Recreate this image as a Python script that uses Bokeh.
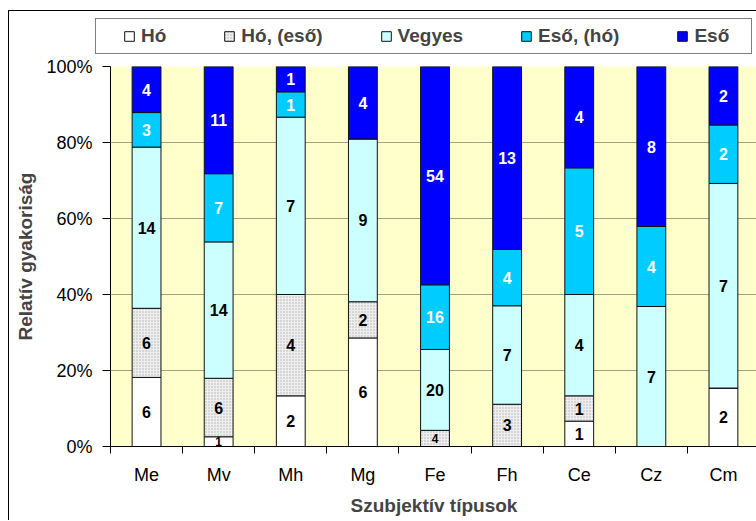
from bokeh.plotting import figure
from bokeh.models import (ColumnDataSource, Range1d, FixedTicker, NumeralTickFormatter,
                          Legend, LegendItem, LabelSet)
from bokeh.core.properties import value
from bokeh.embed import file_html
from bokeh.resources import INLINE

# Subjective precipitation types and observation counts per phase
types = ["Me", "Mv", "Mh", "Mg", "Fe", "Fh", "Ce", "Cz", "Cm"]
series = ["Hó", "Hó, (eső)", "Vegyes", "Eső, (hó)", "Eső"]
ho = [6, 1, 2, 6, 0, 0, 1, 0, 2]
ho_eso = [6, 6, 4, 2, 4, 3, 1, 0, 0]
vegyes = [14, 14, 7, 9, 20, 7, 4, 7, 7]
eso_ho = [3, 7, 1, 0, 16, 4, 5, 4, 2]
eso = [4, 11, 1, 4, 54, 13, 4, 8, 2]
counts = [ho, ho_eso, vegyes, eso_ho, eso]

fills = ["#FFFFFF", "#EEEEEE", "#CCFFFF", "#00CCFF", "#0000FF"]
label_colors = ["black", "black", "black", "white", "white"]
FONT = "Liberation Sans"

n = len(types)
xc = [i + 0.5 for i in range(n)]
totals = [sum(c[i] for c in counts) for i in range(n)]


def bar_style(k):
    kw = dict(fill_color=fills[k], line_color="#111111", line_width=1)
    if k == 1:
        kw.update(hatch_pattern="dot", hatch_scale=3, hatch_color="#B0B0B0", hatch_weight=1)
    return kw


# main chart
p = figure(width=748, height=465, output_backend="svg", toolbar_location=None,
           x_range=Range1d(0, 646 / 72), y_range=Range1d(0, 1),
           min_border_left=101, min_border_right=0, min_border_top=11,
           min_border_bottom=74, background_fill_color="#FFFFCC",
           border_fill_color="white", outline_line_color=None,
           margin=(0, 0, 0, 8), styles={"border-left": "1px solid black"})

sources = []
lab_x, lab_y, lab_t, lab_c, lab_s = [], [], [], [], []
base = [0.0] * n
for k, name in enumerate(series):
    bottom = base[:]
    top = [bottom[i] + counts[k][i] / totals[i] for i in range(n)]
    src = ColumnDataSource(dict(x=xc, bottom=bottom, top=top))
    sources.append(src)
    p.vbar(x="x", bottom="bottom", top="top", width=0.4, source=src, **bar_style(k))
    for i in range(n):
        v = counts[k][i]
        if v > 0:
            share = v / totals[i]
            lab_x.append(xc[i])
            lab_y.append((bottom[i] + top[i]) / 2)
            lab_t.append(str(v))
            lab_c.append(label_colors[k])
            lab_s.append("12px" if share < 0.05 else "16px")
    base = top

lsrc = ColumnDataSource(dict(x=lab_x, y=lab_y, t=lab_t, c=lab_c, s=lab_s))
p.add_layout(LabelSet(x="x", y="y", text="t", source=lsrc, text_color="c",
                      text_font_size="s", text_font=value(FONT), text_font_style="bold",
                      text_align="center", text_baseline="middle"))

# x axis: category names at bar centres, small ticks between categories
p.xaxis.ticker = FixedTicker(ticks=xc, minor_ticks=list(range(n + 1)))
p.xaxis.major_label_overrides = {x: t for x, t in zip(xc, types)}
p.xaxis.major_tick_line_color = None
p.xaxis.major_tick_out = 0
p.xaxis.minor_tick_out = 7
p.xaxis.minor_tick_in = 0
p.xaxis.minor_tick_line_color = "black"
p.xaxis.major_label_standoff = 11
p.xaxis.major_label_text_font = FONT
p.xaxis.major_label_text_font_size = "18px"
p.xaxis.major_label_text_color = "black"
p.xaxis.axis_line_color = "black"
p.xaxis.axis_label = "Szubjektív típusok"
p.xaxis.axis_label_text_font = FONT
p.xaxis.axis_label_text_font_size = "19px"
p.xaxis.axis_label_text_font_style = "bold"
p.xaxis.axis_label_standoff = 7

# y axis: relative frequency in percent
p.yaxis.ticker = FixedTicker(ticks=[0, 0.2, 0.4, 0.6, 0.8, 1.0], minor_ticks=[])
p.yaxis.formatter = NumeralTickFormatter(format="0%")
p.yaxis.major_tick_out = 8
p.yaxis.major_tick_in = 0
p.yaxis.major_label_standoff = 10
p.yaxis.major_label_text_font = FONT
p.yaxis.major_label_text_font_size = "18px"
p.yaxis.major_label_text_color = "black"
p.yaxis.axis_line_color = "black"
p.yaxis.major_tick_line_color = "black"
p.yaxis.axis_label = "Relatív gyakoriság"
p.yaxis.axis_label_text_font = FONT
p.yaxis.axis_label_text_font_size = "19px"
p.yaxis.axis_label_text_font_style = "bold"
p.yaxis.axis_label_standoff = 7

p.xgrid.visible = False
p.ygrid.ticker = FixedTicker(ticks=[0.2, 0.4, 0.6, 0.8, 1.0])
p.ygrid.grid_line_color = "#444444"
p.ygrid.grid_line_dash = "1 1"
p.ygrid.grid_line_width = 1

# legend strip above the chart; its bars share the chart's data but lie
# outside this strip's y range, so only the legend swatches show
lg = figure(width=748, height=45, output_backend="svg", toolbar_location=None,
            x_range=Range1d(0, 646 / 72), y_range=Range1d(5, 6),
            min_border_left=0, min_border_right=0, min_border_top=0, min_border_bottom=0,
            background_fill_color="white", border_fill_color="white",
            outline_line_color=None, margin=(10, 0, 0, 8),
            styles={"border-left": "1px solid black", "border-top": "1px solid black"})
lg.axis.visible = False
lg.grid.visible = False
swatches = [lg.vbar(x="x", bottom="bottom", top="top", width=0.4, source=sources[k],
                    **bar_style(k)) for k in range(len(series))]

labels = series[:-1] + [series[-1] + "\u00a0\u00a0\u00a0"]
legend = Legend(items=[LegendItem(label=l, renderers=[r]) for l, r in zip(labels, swatches)],
                orientation="horizontal", location=(86, 2), padding=6, spacing=57,
                margin=0,
                glyph_width=12, glyph_height=12, label_standoff=6,
                label_text_font=FONT, label_text_font_size="19px",
                label_text_font_style="bold", label_height=20,
                title="\u00a0", title_location="left", title_standoff=10,
                title_text_font_size="10px",
                border_line_color="black", border_line_width=1,
                background_fill_color="white", background_fill_alpha=1)
lg.add_layout(legend, "center")

open("out.html", "w").write(file_html([lg, p], INLINE))
